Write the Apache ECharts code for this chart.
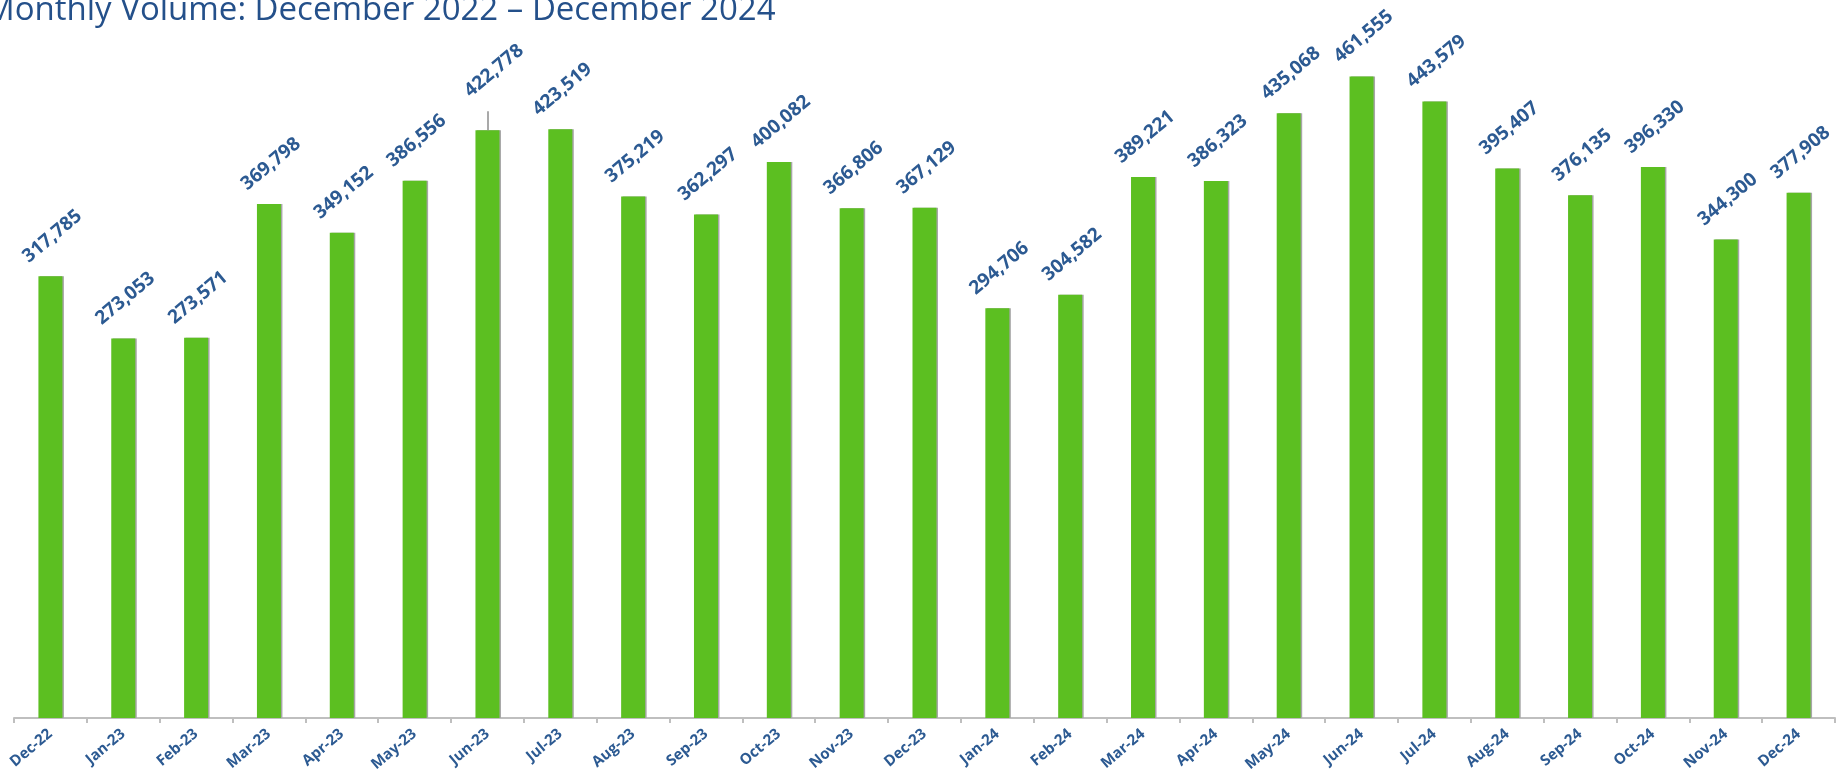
<!DOCTYPE html>
<html>
<head>
<meta charset="utf-8">
<script src="https://cdn.jsdelivr.net/npm/echarts@6/dist/echarts.min.js"></script>
<style>
  html, body { margin: 0; padding: 0; background: #fff; }
  #chart { width: 1839px; height: 779px; }
</style>
</head>
<body>
<div id="chart"></div>
<script>
// months shown on the x axis
const months = ['Dec-22', 'Jan-23', 'Feb-23', 'Mar-23', 'Apr-23', 'May-23', 'Jun-23', 'Jul-23', 'Aug-23',
  'Sep-23', 'Oct-23', 'Nov-23', 'Dec-23', 'Jan-24', 'Feb-24', 'Mar-24', 'Apr-24', 'May-24', 'Jun-24',
  'Jul-24', 'Aug-24', 'Sep-24', 'Oct-24', 'Nov-24', 'Dec-24']
// monthly volume
const volume = [317785, 273053, 273571, 369798, 349152, 386556, 422778, 423519, 375219,
  362297, 400082, 366806, 367129, 294706, 304582, 389221, 386323, 435068, 461555,
  443579, 395407, 376135, 396330, 344300, 377908]
// the Jun-23 label sits higher, with a small leader line up to it
const movedLabel = 6
const leaderTop = 436500

const textBlue = '#2c5a92'

const chart = echarts.init(document.getElementById('chart'))
chart.setOption({
  animation: false,
  title: {
    text: 'Monthly Volume: December 2022 – December 2024',
    left: -15,
    top: -6,
    padding: 0,
    textStyle: {
      fontFamily: 'Open Sans',
      fontSize: 33,
      fontWeight: 'normal',
      color: '#24508a'
    }
  },
  grid: {
    left: 14,
    right: 4,
    top: 23,
    bottom: 61
  },
  xAxis: {
    type: 'category',
    data: months,
    axisLine: { lineStyle: { color: '#bfbfbf', width: 2 } },
    axisTick: { show: true, length: 5, lineStyle: { color: '#bfbfbf', width: 2 } },
    axisLabel: {
      rotate: 40,
      margin: 14,
      color: textBlue,
      fontFamily: 'Open Sans',
      fontWeight: 'bold',
      fontSize: 15,
      interval: 0
    }
  },
  yAxis: {
    type: 'value',
    min: 0,
    max: 500000,
    show: false,
    splitLine: { show: false }
  },
  series: [{
    type: 'bar',
    barWidth: 24,
    // label offset is in the rotated frame of the text
    data: volume.map((v, i) => i === movedLabel ? { value: v, label: { offset: [40, -28] } } : v),
    itemStyle: {
      color: '#5cbf21',
      shadowColor: '#a6a6a6',
      shadowOffsetX: 1.5,
      shadowBlur: 0
    },
    label: {
      show: true,
      position: 'top',
      rotate: 40,
      offset: [24, -16],
      color: textBlue,
      fontFamily: 'Open Sans',
      fontWeight: 'bold',
      fontSize: 19,
      formatter: p => p.value.toLocaleString('en-US')
    },
    markLine: {
      silent: true,
      symbol: 'none',
      label: { show: false },
      lineStyle: { color: '#8c8c8c', width: 1.5, type: 'solid' },
      data: [[
        { coord: [months[movedLabel], volume[movedLabel]] },
        { coord: [months[movedLabel], leaderTop] }
      ]]
    }
  }]
})
</script>
</body>
</html>
